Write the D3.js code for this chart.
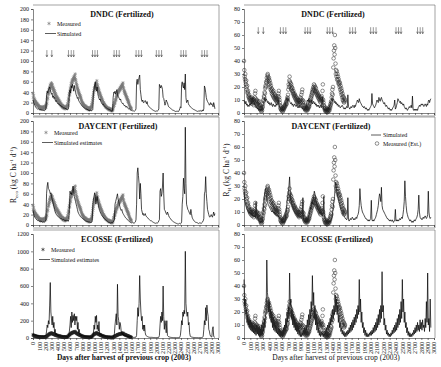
<!DOCTYPE html>
<html>
<head>
<meta charset="utf-8">
<script src="https://cdn.jsdelivr.net/npm/d3@7"></script>
<style>
  html, body { margin: 0; padding: 0; background: #fff; }
  svg text { font-family: "Liberation Serif", "Times New Roman", serif; fill: #111; }
</style>
</head>
<body>
<div id="chart"></div>
<script>
'use strict';

/* Data (days after harvest of previous crop, 2003) */

// Days between two consecutive values of a series
const simStep = 10;
const measStep = 5;

// Tick labels
const xTickValues = [0, 100, 200, 300, 400, 500, 600, 700, 800, 900, 1000, 1100, 1200, 1300, 1400, 1500,
  1600, 1700, 1800, 1900, 2000, 2100, 2200, 2300, 2400, 2500, 2600, 2700, 2800, 2900, 3000];
const recoTicks = [0, 20, 40, 60, 80, 100, 120, 140, 160, 180, 200];
const ecosseRecoTicks = [0, 200, 400, 600, 800, 1000, 1200];
const rhTicks = [0, 10, 20, 30, 40, 50, 60, 70, 80];

// Fertilizer applications (arrows in DNDC panels)
const fertDays = [225, 305, 575, 620, 660, 965, 1005, 1045, 1315, 1355, 1398, 1672, 1715, 1758,
  2000, 2042, 2085, 2400, 2440, 2480, 2740, 2782, 2822];

// Measured ecosystem respiration (every 5 days, from day 0)
const measReco = [
  38, 30, 34, 26, 28, 22, 25, 20, 23, 18, 21, 17, 19, 15, 18, 14, 16, 13, 15, 12,
  13, 10, 12, 9, 11, 8, 12, 10, 9, 11, 8, 10, 12, 9, 11, 8, 10, 13, 9, 11,
  12, 14, 11, 16, 20, 18, 25, 30, 28, 35, 40, 37, 45, 42, 50, 47, 54, 50, 56, 52,
  58, 53, 49, 55, 46, 50, 43, 47, 40, 44, 36, 41, 33, 38, 30, 35, 28, 32, 26, 30,
  24, 28, 22, 26, 20, 24, 18, 22, 17, 20, 15, 18, 14, 16, 12, 15, 11, 14, 10, 13,
  11, 9, 12, 10, 8, 11, 9, 12, 10, 13, 11, 14, 18, 15, 22, 28, 25, 33, 38, 35,
  42, 48, 45, 52, 57, 54, 60, 63, 58, 65, 62, 68, 64, 70, 66, 72, 68, 75, 65, 62,
  58, 55, 50, 53, 46, 48, 42, 44, 38, 40, 35, 37, 32, 34, 29, 31, 27, 25, 23, 21,
  20, 18, 19, 16, 17, 14, 15, 13, 12, 14, 11, 13, 10, 12, 9, 11, 8, 10, 9, 7,
  10, 8, 6, 9, 7, 10, 8, 11, 9, 12, 14, 17, 20, 24, 28, 32, 36, 40, 43, 47,
  50, 46, 53, 49, 56, 52, 58, 62, 55, 50, 53, 46, 48, 42, 44, 38, 40, 35, 37, 32,
  33, 29, 30, 26, 27, 23, 24, 20, 21, 18, 19, 16, 17, 14, 15, 12, 13, 11, 12, 10,
  11, 9, 10, 8, 9, 7, 8, 6, 9, 7, 8, 6, 5, 7, 6, 5, 4, 6, 5, 7,
  9, 12, 15, 14, 18, 21, 19, 24, 27, 25, 30, 33, 31, 36, 34, 38, 41, 39, 44, 42,
  46, 43, 48, 45, 50, 47, 52, 49, 54, 51, 56, 53, 58, 50, 47, 44, 40, 42, 37, 39,
  34, 36, 31, 33, 28, 30, 25, 27, 22, 24, 19, 21, 17, 15, 13, 12, 11, 10, 9, 8
];

// Measured (estimated) heterotrophic respiration (every 5 days, from day 0)
const measRh = [
  40, 33, 28, 26, 30, 24, 22, 25, 20, 18, 21, 16, 15, 17, 13, 12, 14, 11, 10, 12,
  9, 11, 8, 10, 12, 9, 7, 10, 8, 11, 9, 6, 10, 8, 12, 15, 17, 11, 9, 7,
  8, 10, 6, 9, 7, 5, 8, 6, 9, 5, 4, 6, 3, 2, 4, 1, 3, 2, 4, 5,
  7, 10, 9, 13, 12, 16, 15, 19, 21, 20, 24, 23, 27, 25, 29, 30, 28, 26, 24, 27,
  22, 25, 20, 23, 18, 21, 17, 19, 15, 18, 14, 16, 13, 17, 12, 15, 11, 14, 12, 10,
  13, 11, 9, 12, 10, 8, 11, 9, 13, 15, 17, 12, 10, 8, 6, 4, 3, 5, 2, 3,
  2, 4, 1, 3, 2, 4, 3, 5, 4, 6, 5, 7, 6, 8, 9, 7, 10, 12, 11, 14,
  18, 22, 20, 25, 28, 24, 21, 23, 19, 22, 18, 20, 17, 19, 16, 15, 17, 14, 13, 15,
  12, 14, 11, 13, 10, 12, 9, 11, 8, 10, 9, 7, 10, 8, 6, 9, 7, 10, 12, 8,
  11, 14, 9, 16, 18, 10, 8, 6, 9, 5, 4, 6, 3, 5, 2, 4, 3, 2, 4, 3,
  2, 4, 3, 5, 4, 6, 5, 8, 7, 10, 9, 12, 11, 14, 13, 16, 15, 18, 17, 20,
  19, 22, 18, 21, 17, 20, 16, 19, 15, 17, 14, 16, 13, 15, 12, 14, 11, 13, 10, 12,
  9, 11, 8, 12, 10, 13, 9, 11, 17, 22, 10, 8, 6, 4, 5, 3, 2, 4, 1, 2,
  3, 1, 2, 0.5, 2, 3, 1, 2, 4, 3, 2, 5, 4, 7, 6, 9, 8, 12, 15, 18,
  14, 20, 35, 42, 48, 52, 45, 60, 50, 38, 30, 33, 28, 32, 26, 30, 25, 28, 23, 26,
  22, 24, 20, 23, 18, 21, 16, 19, 14, 17, 12, 15, 10, 13, 9, 12, 8, 11, 9, 10
];

// Simulated series (every 10 days, from day 0)
const dndcReco = [
  25, 20, 18, 15, 12, 10, 9, 8, 7, 8,
  7, 6, 7, 5, 6, 5, 6, 5, 4, 5,
  6, 8, 35, 42, 38, 45, 48, 50, 44, 40,
  36, 38, 30, 33, 28, 30, 25, 22, 24, 20,
  19, 17, 18, 15, 14, 15, 12, 11, 12, 10,
  9, 10, 8, 9, 7, 8, 6, 7, 12, 40,
  45, 38, 52, 48, 55, 50, 42, 53, 46, 40,
  35, 32, 28, 30, 24, 22, 20, 18, 16, 15,
  13, 12, 11, 10, 9, 8, 7, 8, 6, 7,
  5, 6, 4, 5, 6, 4, 5, 7, 40, 45,
  55, 60, 48, 42, 50, 38, 32, 28, 25, 27,
  22, 20, 18, 16, 17, 14, 13, 12, 11, 10,
  9, 8, 7, 8, 6, 5, 6, 4, 3, 5,
  30, 40, 38, 42, 36, 40, 45, 35, 32, 30,
  28, 25, 27, 22, 20, 18, 19, 16, 14, 15,
  12, 11, 13, 10, 9, 8, 9, 7, 6, 5,
  5, 4, 5, 4, 3, 4, 5, 8, 60, 65,
  55, 62, 68, 73, 45, 35, 25, 22, 25, 20,
  20, 22, 24, 21, 18, 22, 16, 14, 12, 11,
  10, 9, 8, 7, 6, 5, 5, 4, 4, 3,
  4, 3, 4, 5, 8, 55, 52, 48, 53, 50,
  45, 30, 28, 22, 15, 18, 25, 22, 20, 15,
  12, 11, 10, 9, 8, 7, 6, 5, 5, 4,
  4, 3, 4, 3, 3, 4, 3, 5, 8, 12,
  10, 55, 60, 52, 48, 58, 45, 75, 30, 20,
  22, 25, 18, 15, 14, 12, 11, 10, 9, 8,
  7, 7, 6, 5, 5, 4, 4, 3, 4, 3,
  4, 3, 5, 4, 3, 6, 4, 8, 52, 48,
  40, 30, 25, 22, 20, 18, 15, 17, 20, 16,
  18, 15, 12, 20, 15, 8
];

const daycentReco = [
  28, 22, 18, 15, 13, 12, 10, 9, 8, 9,
  8, 7, 8, 6, 7, 6, 5, 6, 5, 6,
  7, 10, 60, 75, 82, 70, 68, 65, 60, 62,
  55, 50, 45, 40, 35, 30, 25, 22, 20, 18,
  17, 16, 15, 14, 13, 12, 12, 11, 10, 11,
  10, 9, 10, 8, 9, 8, 9, 7, 10, 30,
  65, 60, 62, 58, 70, 75, 65, 55, 50, 45,
  40, 35, 30, 25, 22, 20, 18, 16, 15, 14,
  13, 12, 11, 10, 9, 8, 8, 7, 7, 6,
  6, 5, 6, 5, 4, 5, 8, 40, 50, 55,
  62, 55, 40, 48, 55, 45, 38, 32, 28, 25,
  22, 20, 18, 16, 15, 13, 12, 11, 10, 9,
  8, 7, 6, 5, 5, 4, 4, 5, 4, 5,
  6, 8, 10, 40, 45, 50, 55, 60, 50, 45,
  40, 35, 30, 28, 30, 25, 22, 20, 18, 16,
  14, 13, 12, 10, 9, 8, 7, 6, 5, 5,
  4, 5, 4, 4, 3, 5, 6, 10, 40, 100,
  110, 95, 80, 50, 80, 60, 30, 25, 20, 22,
  18, 20, 22, 18, 16, 15, 14, 12, 11, 10,
  9, 8, 8, 7, 6, 5, 5, 4, 4, 3,
  4, 3, 4, 5, 8, 10, 65, 70, 55, 60,
  75, 100, 60, 30, 28, 25, 22, 20, 25, 22,
  18, 15, 14, 12, 10, 9, 8, 7, 6, 5,
  5, 4, 3, 3, 2, 3, 2, 3, 3, 2,
  3, 6, 40, 55, 90, 70, 60, 188, 80, 40,
  35, 30, 28, 25, 22, 20, 30, 22, 15, 12,
  10, 8, 7, 6, 5, 5, 4, 4, 3, 3,
  4, 3, 4, 3, 5, 6, 8, 12, 60, 65,
  93, 60, 45, 30, 25, 20, 16, 15, 18, 20,
  17, 15, 20, 25, 18, 22
];

const ecosseReco = [
  50, 35, 40, 30, 35, 28, 32, 25, 30, 22,
  28, 20, 25, 18, 22, 20, 24, 18, 20, 22,
  25, 30, 80, 150, 120, 200, 160, 380, 640, 300,
  220, 150, 250, 120, 180, 60, 100, 40, 50, 30,
  35, 25, 30, 22, 28, 20, 25, 18, 22, 20,
  18, 22, 16, 20, 15, 18, 14, 20, 30, 80,
  150, 250, 120, 300, 180, 260, 200, 280, 150, 250,
  200, 250, 100, 180, 60, 100, 40, 30, 35, 25,
  28, 20, 25, 18, 22, 16, 20, 15, 18, 14,
  16, 12, 15, 12, 14, 10, 13, 20, 60, 150,
  100, 250, 180, 260, 100, 150, 80, 190, 60, 40,
  50, 30, 35, 25, 30, 20, 25, 18, 20, 15,
  18, 14, 16, 12, 15, 10, 14, 12, 15, 10,
  13, 20, 50, 150, 220, 280, 150, 620, 250, 200,
  100, 180, 150, 80, 60, 40, 50, 30, 35, 25,
  28, 20, 25, 18, 22, 15, 18, 12, 15, 10,
  12, 8, 10, 7, 9, 6, 8, 10, 30, 200,
  350, 250, 400, 720, 450, 300, 200, 250, 100, 150,
  80, 150, 60, 30, 25, 20, 15, 12, 10, 8,
  9, 7, 8, 6, 7, 5, 6, 5, 5, 4,
  5, 4, 6, 5, 8, 30, 150, 250, 180, 300,
  200, 600, 250, 100, 200, 150, 60, 200, 30, 20,
  15, 12, 10, 8, 7, 6, 5, 5, 4, 4,
  5, 4, 4, 3, 4, 3, 4, 5, 8, 30,
  100, 200, 150, 300, 250, 320, 280, 1000, 400, 300,
  250, 300, 150, 180, 60, 20, 15, 12, 10, 8,
  7, 6, 5, 5, 4, 4, 3, 4, 3, 3,
  4, 3, 5, 4, 6, 8, 20, 100, 200, 150,
  350, 200, 380, 300, 250, 100, 80, 40, 20, 15,
  12, 100, 130, 20, 10, 8
];

const dndcRh = [
  10, 8, 7, 9, 6, 7, 5, 6, 5, 7,
  6, 8, 7, 10, 12, 9, 8, 6, 5, 4,
  5, 3, 4, 2, 3, 2, 2, 3, 2, 4,
  6, 8, 10, 12, 9, 11, 10, 8, 9, 7,
  8, 6, 7, 8, 6, 5, 7, 6, 5, 6,
  5, 7, 6, 8, 10, 7, 5, 4, 3, 2,
  2, 3, 2, 3, 4, 5, 8, 10, 12, 9,
  11, 10, 9, 8, 7, 8, 6, 7, 5, 6,
  7, 6, 5, 6, 5, 4, 5, 4, 6, 5,
  4, 5, 3, 4, 3, 2, 3, 4, 5, 8,
  10, 9, 11, 8, 10, 9, 8, 10, 7, 8,
  9, 7, 8, 6, 7, 5, 6, 5, 6, 4,
  5, 6, 4, 8, 12, 5, 3, 2, 3, 2,
  2, 3, 2, 4, 3, 5, 6, 8, 10, 12,
  9, 11, 10, 8, 9, 7, 8, 6, 7, 5,
  6, 5, 4, 5, 5, 6, 5, 4, 3, 4,
  3, 4, 5, 4, 14, 5, 4, 3, 4, 5,
  4, 5, 6, 5, 4, 6, 5, 7, 8, 10,
  9, 8, 11, 9, 8, 7, 6, 5, 5, 4,
  5, 4, 3, 4, 3, 2, 3, 2, 3, 4,
  5, 6, 15, 7, 6, 5, 4, 5, 6, 8,
  10, 9, 8, 12, 10, 9, 11, 12, 10, 9,
  8, 7, 8, 6, 5, 6, 5, 4, 3, 4,
  3, 2, 3, 2, 3, 4, 5, 6, 10, 3,
  4, 6, 8, 11, 10, 9, 8, 9, 7, 8,
  7, 6, 7, 5, 4, 3, 4, 3, 2, 3,
  4, 5, 4, 5, 6, 4, 13, 3, 2, 3,
  2, 3, 2, 3, 2, 4, 5, 6, 5, 6,
  7, 6, 7, 6, 5, 6, 7, 6, 5, 7,
  6, 9, 10, 8, 10, 11
];

const daycentRh = [
  25, 20, 17, 15, 13, 12, 11, 10, 9, 10,
  9, 8, 9, 7, 8, 7, 6, 7, 6, 18,
  8, 6, 5, 4, 3, 2, 2, 3, 2, 3,
  8, 15, 22, 26, 28, 25, 20, 18, 16, 15,
  14, 13, 12, 11, 10, 11, 10, 9, 10, 8,
  9, 8, 7, 8, 6, 7, 5, 6, 5, 4,
  3, 2, 2, 3, 2, 4, 8, 12, 18, 22,
  25, 30, 37, 25, 20, 18, 15, 14, 12, 11,
  10, 9, 9, 8, 8, 7, 7, 6, 6, 7,
  6, 5, 6, 21, 4, 3, 3, 2, 3, 2,
  3, 4, 6, 8, 10, 14, 12, 18, 16, 20,
  22, 26, 24, 20, 18, 16, 14, 12, 11, 10,
  9, 10, 8, 9, 7, 8, 22, 6, 5, 4,
  3, 2, 2, 3, 2, 3, 2, 3, 4, 6,
  10, 14, 18, 22, 30, 33, 28, 24, 22, 20,
  18, 16, 14, 12, 11, 10, 9, 8, 7, 6,
  5, 5, 4, 5, 21, 4, 3, 4, 5, 4,
  5, 6, 5, 4, 5, 4, 5, 6, 5, 7,
  8, 10, 15, 28, 20, 15, 12, 10, 9, 8,
  7, 6, 5, 5, 4, 4, 3, 4, 3, 4,
  5, 19, 4, 3, 4, 3, 4, 5, 6, 8,
  10, 12, 15, 20, 24, 22, 18, 29, 15, 12,
  11, 10, 9, 8, 7, 6, 5, 5, 4, 4,
  3, 4, 3, 3, 4, 3, 2, 3, 4, 12,
  3, 4, 3, 4, 3, 4, 5, 4, 5, 6,
  5, 8, 12, 18, 34, 22, 15, 10, 8, 6,
  5, 4, 3, 4, 3, 2, 3, 2, 3, 4,
  3, 4, 5, 6, 8, 12, 23, 10, 6, 5,
  5, 4, 5, 6, 5, 6, 7, 6, 5, 6,
  8, 26, 10, 6, 5, 6
];

const ecosseRh = [
  45, 25, 30, 18, 22, 12, 18, 10, 15, 8,
  14, 6, 12, 5, 10, 4, 9, 3, 8, 2,
  10, 3, 8, 2, 9, 1, 7, 2, 10, 3,
  12, 5, 15, 8, 18, 20, 60, 35, 30, 20,
  28, 15, 22, 12, 20, 8, 16, 6, 12, 5,
  10, 4, 9, 3, 8, 2, 7, 1, 6, 2,
  5, 1, 8, 3, 10, 5, 15, 8, 20, 12,
  24, 15, 50, 25, 30, 15, 22, 10, 18, 8,
  15, 6, 12, 5, 10, 3, 8, 2, 6, 1,
  5, 1, 4, 2, 6, 3, 8, 4, 10, 6,
  14, 8, 18, 10, 22, 15, 28, 20, 48, 25,
  35, 15, 25, 10, 18, 6, 12, 4, 8, 2,
  6, 1, 5, 2, 4, 1, 3, 2, 5, 3,
  8, 4, 10, 6, 12, 8, 15, 10, 18, 12,
  22, 15, 25, 18, 33, 20, 30, 18, 25, 12,
  18, 8, 12, 5, 8, 3, 6, 2, 5, 1,
  4, 1, 5, 2, 6, 3, 8, 4, 10, 5,
  12, 6, 14, 8, 16, 10, 18, 12, 22, 15,
  25, 18, 45, 20, 30, 12, 20, 8, 12, 4,
  8, 2, 6, 1, 4, 1, 3, 1, 4, 2,
  5, 2, 6, 3, 8, 4, 10, 5, 12, 6,
  15, 8, 18, 10, 22, 12, 25, 15, 51, 20,
  25, 10, 15, 6, 10, 3, 6, 2, 4, 1,
  3, 1, 4, 2, 6, 3, 8, 4, 10, 5,
  12, 6, 15, 8, 18, 10, 22, 12, 28, 15,
  45, 20, 30, 12, 20, 8, 12, 4, 8, 2,
  5, 1, 4, 1, 3, 1, 4, 2, 6, 3,
  8, 4, 10, 5, 12, 6, 10, 5, 14, 7,
  12, 6, 14, 8, 10, 5, 15, 8, 28, 12,
  50, 10, 15, 5, 30, 8
];


/* Layout */


const columns = {
  left: { x0: 33, x1: 218 },
  right: { x0: 244, x1: 434 }
};
const rows = [
  { top: 9, bottom: 113 },
  { top: 121, bottom: 225 },
  { top: 234, bottom: 338 }
];

const panels = [
  { col: 'left', row: 0, title: 'DNDC (Fertilized)', titleX: 122, sim: dndcReco, meas: measReco, ticks: recoTicks, kind: 'reco',
    markColor: '#777', arrows: [108, 121], legend: { type: 'measFirst', x: 45, y: 25, label2: 'Simulated' } },
  { col: 'right', row: 0, title: 'DNDC (Fertilized)', titleX: 333, sim: dndcRh, meas: measRh, ticks: rhTicks, kind: 'rh',
    markColor: '#222', arrows: [61, 66] },
  { col: 'left', row: 1, title: 'DAYCENT (Fertilized)', titleX: 118, sim: daycentReco, meas: measReco, ticks: recoTicks, kind: 'reco',
    markColor: '#777', legend: { type: 'measFirst', x: 42, y: 134, label2: 'Simulated estimates' } },
  { col: 'right', row: 1, title: 'DAYCENT (Fertilized)', titleX: 331, sim: daycentRh, meas: measRh, ticks: rhTicks, kind: 'rh',
    markColor: '#222', legend: { type: 'simFirst', x: 371, y: 135 } },
  { col: 'left', row: 2, title: 'ECOSSE (Fertilized)', titleX: 117, sim: ecosseReco, meas: measReco, ticks: ecosseRecoTicks, kind: 'reco',
    markColor: '#222', legend: { type: 'measFirst', x: 39, y: 251, label2: 'Simulated estimates' } },
  { col: 'right', row: 2, title: 'ECOSSE (Fertilized)', titleX: 337, sim: ecosseRh, meas: measRh, ticks: rhTicks, kind: 'rh',
    markColor: '#222' }
];

const svg = d3.select('#chart').append('svg')
  .attr('width', 441)
  .attr('height', 367)
  .style('display', 'block');

svg.append('rect').attr('width', 441).attr('height', 367).attr('fill', '#fff');

// Asterisk symbol for Reco measurements (fallback to circle on older d3)
const starType = d3.symbolAsterisk || d3.symbolCircle;


// Draw one measured marker at (cx, cy)
function drawMarker(g, kind, color, cx, cy) {
  if (kind === 'reco') {
    g.append('path')
      .attr('d', d3.symbol().type(starType).size(9)())
      .attr('transform', `translate(${cx},${cy})`)
      .attr('fill', 'none')
      .attr('stroke', color)
      .attr('stroke-width', 0.6);
  } else {
    g.append('circle')
      .attr('cx', cx).attr('cy', cy).attr('r', 1.8)
      .attr('fill', 'none')
      .attr('stroke', color)
      .attr('stroke-width', 0.5);
  }
}


function drawPanel(p) {
  const col = columns[p.col];
  const row = rows[p.row];
  const x = d3.scaleLinear().domain([0, 3000]).range([col.x0, col.x1]);
  const y = d3.scaleLinear().domain([0, p.ticks[p.ticks.length - 1]]).range([row.bottom, row.top]);
  const g = svg.append('g');

  // Panel frame (left edge is the y axis itself)
  const fTop = row.top - 4;
  const fBottom = p.row === 2 ? row.bottom : row.bottom + 3;
  g.append('path')
    .attr('d', `M${col.x0},${fTop}H${col.x1 + 1}V${fBottom}` + (p.row === 2 ? '' : `H${col.x0}`))
    .attr('fill', 'none')
    .attr('stroke', '#666')
    .attr('stroke-width', 0.6);

  // Axes
  const yAxis = g.append('g')
    .attr('transform', `translate(${col.x0},0)`)
    .call(d3.axisLeft(y).tickValues(p.ticks).tickSize(2).tickPadding(2).tickFormat(d3.format('d')));
  const xAxis = g.append('g')
    .attr('transform', `translate(0,${row.bottom})`)
    .call(d3.axisBottom(x).tickValues(xTickValues).tickSize(2).tickFormat(p.row === 2 ? d3.format('d') : ''));
  [yAxis, xAxis].forEach(a => {
    a.selectAll('path, line').attr('stroke', '#333').attr('stroke-width', 0.6);
    a.selectAll('text').style('font-size', '6px').attr('fill', '#222');
  });
  if (p.row === 2) { // Vertical labels under the bottom axis
    xAxis.selectAll('text')
      .attr('transform', 'rotate(-90)')
      .attr('x', -4)
      .attr('y', 0)
      .attr('dy', '0.33em')
      .style('text-anchor', 'end');
  }

  const meas = p.meas.map((v, i) => [i * measStep, v]);
  const sim = p.sim.map((v, i) => [i * simStep, v]);
  const line = d3.line().x(d => x(d[0])).y(d => y(d[1]));

  const drawMeas = () => {
    const mg = g.append('g');
    meas.forEach(d => drawMarker(mg, p.kind, p.markColor, x(d[0]), y(d[1])));
  };
  const drawSim = () => {
    g.append('path')
      .datum(sim)
      .attr('d', line)
      .attr('fill', 'none')
      .attr('stroke', '#000')
      .attr('stroke-width', 0.7)
      .attr('stroke-linejoin', 'round');
  };
  // Reco panels: stars under the line, Rh panels: circles over it
  if (p.kind === 'reco') { drawMeas(); drawSim(); } else { drawSim(); drawMeas(); }

  // Fertilizer arrows
  if (p.arrows) {
    const [lo, hi] = p.arrows;
    fertDays.forEach(d => {
      const ax = x(d);
      g.append('path')
        .attr('d', `M${ax},${y(hi)}V${y(lo)}M${ax - 1},${y(lo) - 2}L${ax},${y(lo)}L${ax + 1},${y(lo) - 2}`)
        .attr('fill', 'none')
        .attr('stroke', '#333')
        .attr('stroke-width', 0.5);
    });
  }

  // Title
  g.append('text')
    .attr('x', p.titleX)
    .attr('y', row.top + 8)
    .attr('text-anchor', 'middle')
    .style('font-size', '8px')
    .style('font-weight', 'bold')
    .text(p.title);

  // Legend
  if (p.legend) {
    const L = p.legend;
    const lg = g.append('g').style('font-size', '6px');
    if (L.type === 'measFirst') {
      drawMarker(lg, p.kind, p.markColor, L.x + 4, L.y - 1.5);
      lg.append('text').attr('x', L.x + 12).attr('y', L.y + 0.5).text('Measured');
      lg.append('line').attr('x1', L.x).attr('x2', L.x + 11).attr('y1', L.y + 8.5).attr('y2', L.y + 8.5)
        .attr('stroke', '#333').attr('stroke-width', 0.8);
      lg.append('text').attr('x', L.x + 12).attr('y', L.y + 10.5).text(L.label2);
    } else {
      lg.append('line').attr('x1', L.x).attr('x2', L.x + 10).attr('y1', L.y).attr('y2', L.y)
        .attr('stroke', '#333').attr('stroke-width', 0.8);
      lg.append('text').attr('x', L.x + 12).attr('y', L.y + 2).text('Simulated');
      drawMarker(lg, p.kind, p.markColor, L.x + 6, L.y + 8.5);
      lg.append('text').attr('x', L.x + 12).attr('y', L.y + 10.5).text('Measured (Est.)');
    }
  }
}

panels.forEach(drawPanel);


/* Axis titles */


function yTitle(cx, cy, sub) {
  const t = svg.append('text')
    .attr('transform', `translate(${cx},${cy}) rotate(-90)`)
    .attr('text-anchor', 'middle')
    .style('font-size', '7.5px');
  t.append('tspan').text('R');
  t.append('tspan').attr('dy', 2).style('font-size', '5px').text(sub);
  t.append('tspan').attr('dy', -2).text(' (kg C ha');
  t.append('tspan').attr('dy', -3).style('font-size', '5px').text('-1');
  t.append('tspan').attr('dy', 3).text(' d');
  t.append('tspan').attr('dy', -3).style('font-size', '5px').text('-1');
  t.append('tspan').attr('dy', 3).text(')');
}
yTitle(16, 175, 'eco');
yTitle(229, 170, 'H');

svg.append('text')
  .attr('x', 124).attr('y', 360)
  .attr('text-anchor', 'middle')
  .style('font-size', '7.5px')
  .style('font-weight', 'bold')
  .text('Days after harvest of previous crop (2003)');

svg.append('text')
  .attr('x', 336).attr('y', 360)
  .attr('text-anchor', 'middle')
  .style('font-size', '7.5px')
  .text('Days after harvest of previous crop (2003)');
</script>
</body>
</html>
